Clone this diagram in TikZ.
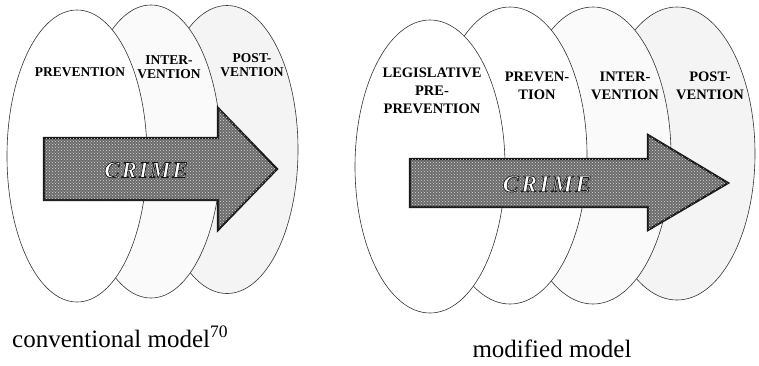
\documentclass[tikz,border=0pt]{standalone}
\usepackage{fontspec}
\setmainfont{Liberation Serif}
\usetikzlibrary{shapes.geometric,patterns}
\newcommand{\outlinedText}[1]{{\color{white}\special{pdf:literal direct q 0.1 G 0.7 w 2 Tr}#1\special{pdf:literal direct Q}}}
\newcommand{\crimeword}[1]{C\kern#1 R\kern#1 I\kern#1 M\kern#1 E}
\begin{document}
\begin{tikzpicture}[x=1pt,y=-1pt,
  oval/.style={ellipse,draw=black!80,line width=0.6pt,inner sep=0pt},
  lblL/.style={font=\bfseries\fontsize{13.5}{14.5}\selectfont,align=center,inner sep=0pt},
  lblR/.style={font=\bfseries\fontsize{14.5}{18}\selectfont,align=center,inner sep=0pt},
  bigarrow/.style={draw=black!90,line width=2.2pt,line join=miter,fill=black!58,
     postaction={pattern=crosshatch dots,pattern color=white!70!gray}},
  crimetxt/.style={font=\bfseries\itshape\fontsize{#1}{#1}\selectfont,inner sep=0pt},
  caption/.style={font=\fontsize{25}{28}\selectfont,inner sep=0pt}]
\useasboundingbox[fill=white] (0,0) rectangle (759,365);

% ---- conventional model ----
\node[oval,fill=gray!9,minimum width=142pt,minimum height=288pt] (e3) at (227,149.5) {};
\node[oval,fill=gray!4,minimum width=140pt,minimum height=293pt] (e2) at (151,151.5) {};
\node[oval,fill=white,minimum width=140pt,minimum height=292pt] (e1) at (77,156) {};

\node[lblL] (l1) at (80,72) {PREVENTION};
\node[lblL] (l2) at (169,67) {INTER-\\VENTION};
\node[lblL] (l3) at (252,65) {POST-\\VENTION};

\path[bigarrow] (44,138) -- (218,138) -- (218,108) -- (277,169) -- (218,230) -- (218,200) -- (44,200) -- cycle;
\node[crimetxt=23] (c1) at (146,170) {\outlinedText{\crimeword{2pt}}};

% ---- modified model ----
\node[oval,fill=gray!9,minimum width=156pt,minimum height=293pt] (d) at (677,153.5) {};
\node[oval,fill=gray!4,minimum width=156pt,minimum height=297pt] (c) at (593,155.5) {};
\node[oval,fill=white,minimum width=154pt,minimum height=297pt] (b) at (510,155.5) {};
\node[oval,fill=white,minimum width=150pt,minimum height=293pt] (a) at (430,166.5) {};

\node[lblR] (ra) at (432,91) {LEGISLATIVE\\PRE-\\PREVENTION};
\node[lblR] (rb) at (537,86) {PREVEN-\\TION};
\node[lblR] (rc) at (625,86) {INTER-\\VENTION};
\node[lblR] (rd) at (710,86) {POST-\\VENTION};

\path[bigarrow] (410,159) -- (648,159) -- (648,135) -- (728,183) -- (648,230) -- (648,207) -- (410,207) -- cycle;
\node[crimetxt=24] (c2) at (547,184) {\outlinedText{\crimeword{2.5pt}}};

% ---- captions ----
\node[caption,anchor=base west] (cap1) at (12,347) {conventional model\textsuperscript{70}};
\node[caption,anchor=base] (cap2) at (552,357) {modified model};
\end{tikzpicture}
\end{document}
